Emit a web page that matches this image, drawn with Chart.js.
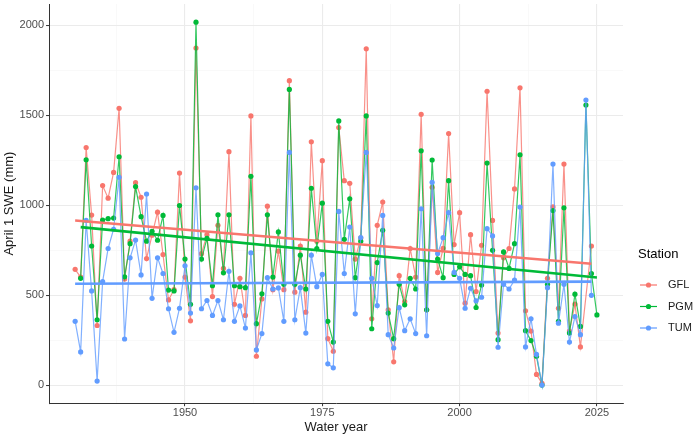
<!DOCTYPE html>
<html>
<head>
<meta charset="utf-8">
<script src="https://cdn.jsdelivr.net/npm/chart.js@4.4.1/dist/chart.umd.min.js"></script>
<style>
  html, body { margin: 0; padding: 0; background: #fff; }
  #wrap { width: 697px; height: 436px; }
</style>
</head>
<body>
<div id="wrap"><canvas id="swe" width="697" height="436"></canvas></div>
<script>
// April 1 SWE by station, water years 1930-2025 (null = no value)
const years = [
  1930, 1931, 1932, 1933, 1934, 1935, 1936, 1937, 1938, 1939,
  1940, 1941, 1942, 1943, 1944, 1945, 1946, 1947, 1948, 1949,
  1950, 1951, 1952, 1953, 1954, 1955, 1956, 1957, 1958, 1959,
  1960, 1961, 1962, 1963, 1964, 1965, 1966, 1967, 1968, 1969,
  1970, 1971, 1972, 1973, 1974, 1975, 1976, 1977, 1978, 1979,
  1980, 1981, 1982, 1983, 1984, 1985, 1986, 1987, 1988, 1989,
  1990, 1991, 1992, 1993, 1994, 1995, 1996, 1997, 1998, 1999,
  2000, 2001, 2002, 2003, 2004, 2005, 2006, 2007, 2008, 2009,
  2010, 2011, 2012, 2013, 2014, 2015, 2016, 2017, 2018, 2019,
  2020, 2021, 2022, 2023, 2024, 2025
];

const gfl = [
  643, 600, 1320, 945, 331, 1109, 1039, 1182, 1538, 589,
  800, 1125, 1044, 703, 833, 961, 725, 473, 530, 1178,
  600, 357, 1873, 730, 836, 492, 888, 648, 1297, 449,
  593, 387, 1496, 160, 479, 994, 530, 744, 530, 1692,
  516, 773, 405, 1352, 800, 1247, 258, 188, 1431, 1136,
  1121, 700, 818, 1869, 368, 888, 1017, 418, 129, 608,
  464, 759, 600, 1505, 418, 1099, 626, 760, 1398, 781,
  958, 455, 836, 520, 777, 1633, 915, 289, 707, 759,
  1090, 1652, 413, 300, 59, 10, 593, 990, 427, 1228,
  300, 450, 212, null, 773, null
];

const pgm = [
  null, 593, 1252, 773, 363, 917, 925, 928, 1269, 602,
  786, 1103, 936, 800, 855, 805, 943, 528, 523, 998,
  700, 449, 2017, 700, 815, 552, 946, 624, 946, 552,
  547, 541, 1160, 341, 507, 946, 600, 851, 560, 1643,
  560, 722, 534, 1094, 759, 1011, 354, 239, 1468, 810,
  1035, 597, 800, 1496, 313, 681, 860, 400, 258, 560,
  446, 593, 534, 1302, 418, 1251, 700, 597, 1136, 615,
  657, 615, 608, 431, 556, 1234, 749, 252, 740, 648,
  786, 1280, 302, 247, 160, 0, 560, 970, 354, 985,
  289, 505, 326, 1556, 620, 390
];

const tum = [
  354, 184, 915, 523, 22, 575, 759, 866, 1155, 256,
  707, 806, 612, 1062, 482, 707, 620, 424, 293, 427,
  663, 400, 1096, 424, 470, 387, 470, 363, 632, 354,
  440, 317, 735, 195, 286, 597, 534, 540, 354, 1293,
  363, 541, 289, 722, 547, 615, 118, 96, 965, 620,
  878, 396, 820, 1293, 593, 442, 943, 280, 206, 430,
  302, 368, 286, 980, 274, 1127, 731, 819, 958, 626,
  593, 427, 538, 468, 488, 869, 829, 210, 560, 534,
  584, 989, 212, 368, 170, 0, 541, 1228, 344, 560,
  239, 381, 280, 1584, 499, null
];

// linear trend end points (start year, end year) and values
const gflTrendYears = [1930, 2024];
const gflTrend = [915, 674];
const pgmTrendYears = [1931, 2025];
const pgmTrend = [878, 598];
const tumTrendYears = [1930, 2024];
const tumTrend = [563, 575];

const xTicks = [1937.5, 1950, 1962.5, 1975, 1987.5, 2000, 2012.5, 2025];
const yTicks = [0, 250, 500, 750, 1000, 1250, 1500, 1750, 2000];

const stations = ['GFL', 'PGM', 'TUM'];
const colors = ['#F8766D', '#00BA38', '#619CFF'];
const lineColors = ['rgba(248,118,109,0.8)', 'rgba(0,186,56,0.8)', 'rgba(97,156,255,0.8)'];

function toPts(xs, ys) {
  return xs.map((x, i) => ({ x: x, y: ys[i] }));
}

function series(i, vals) {
  return {
    label: stations[i],
    data: toPts(years, vals),
    borderColor: lineColors[i],
    backgroundColor: colors[i],
    borderWidth: 1.2,
    pointRadius: 2.6,
    pointBorderWidth: 0,
    pointBackgroundColor: colors[i],
    spanGaps: true,
    tension: 0,
    order: 4 - i
  };
}

function trend(i, xs, vals) {
  return {
    label: stations[i] + ' trend',
    data: toPts(xs, vals),
    borderColor: colors[i],
    borderWidth: 2.6,
    pointRadius: 0,
    tension: 0,
    order: 0
  };
}

const FONT = '"Liberation Sans", Arial, sans-serif';

// ggplot-like legend on the right
const legendBox = {
  id: 'legendBox',
  afterDraw(chart) {
    const ctx = chart.ctx;
    ctx.save();
    ctx.fillStyle = '#000';
    ctx.font = '13px ' + FONT;
    ctx.textBaseline = 'middle';
    ctx.textAlign = 'left';
    ctx.fillText('Station', 638, 254);
    ctx.font = '11px ' + FONT;
    stations.forEach((s, i) => {
      const y = 285 + i * 21.5;
      ctx.strokeStyle = colors[i];
      ctx.lineWidth = 1.2;
      ctx.beginPath();
      ctx.moveTo(640, y);
      ctx.lineTo(657, y);
      ctx.stroke();
      ctx.fillStyle = colors[i];
      ctx.beginPath();
      ctx.arc(648.5, y, 2.6, 0, Math.PI * 2);
      ctx.fill();
      ctx.fillStyle = '#1a1a1a';
      ctx.fillText(s, 668, y);
    });
    ctx.restore();
  }
};

function gridStyle(majorStep) {
  return {
    color: c => (c.tick && c.tick.value % majorStep === 0) ? '#EBEBEB' : '#F5F5F5',
    lineWidth: c => (c.tick && c.tick.value % majorStep === 0) ? 1.1 : 0.6,
    tickColor: c => (c.tick && c.tick.value % majorStep === 0) ? '#333333' : 'rgba(0,0,0,0)',
    tickLength: 3,
    tickWidth: 1
  };
}

new Chart(document.getElementById('swe'), {
  type: 'line',
  data: {
    datasets: [
      series(0, gfl), series(1, pgm), series(2, tum),
      trend(0, gflTrendYears, gflTrend),
      trend(1, pgmTrendYears, pgmTrend),
      trend(2, tumTrendYears, tumTrend)
    ]
  },
  options: {
    responsive: false,
    animation: false,
    devicePixelRatio: 1,
    layout: { padding: { left: 2, right: 74, top: -1, bottom: 1 } },
    plugins: {
      legend: { display: false },
      tooltip: { enabled: false }
    },
    scales: {
      x: {
        type: 'linear',
        min: 1925.25,
        max: 2029.75,
        afterBuildTicks: a => { a.ticks = xTicks.map(v => ({ value: v })); },
        afterFit: a => { a.paddingLeft = 0; a.paddingRight = 0; },
        ticks: {
          autoSkip: false,
          maxRotation: 0,
          padding: 0,
          color: '#4D4D4D',
          font: { family: FONT, size: 11 },
          callback: v => (v % 25 === 0 ? String(v) : '')
        },
        grid: gridStyle(25),
        border: { display: true, color: '#333333', width: 1 },
        title: {
          display: true,
          text: 'Water year',
          color: '#1a1a1a',
          font: { family: FONT, size: 13 },
          padding: { top: 0, bottom: 0 }
        }
      },
      y: {
        type: 'linear',
        min: -100.85,
        max: 2118,
        afterBuildTicks: a => { a.ticks = yTicks.map(v => ({ value: v })); },
        afterFit: a => { a.paddingTop = 0; a.paddingBottom = 0; },
        ticks: {
          padding: 2,
          color: '#4D4D4D',
          font: { family: FONT, size: 11 },
          callback: v => (v % 500 === 0 ? String(v) : '')
        },
        grid: gridStyle(500),
        border: { display: true, color: '#333333', width: 1 },
        title: {
          display: true,
          text: 'April 1 SWE (mm)',
          color: '#1a1a1a',
          font: { family: FONT, size: 13 },
          padding: { top: 0, bottom: 0 }
        }
      }
    }
  },
  plugins: [legendBox]
});
</script>
</body>
</html>
